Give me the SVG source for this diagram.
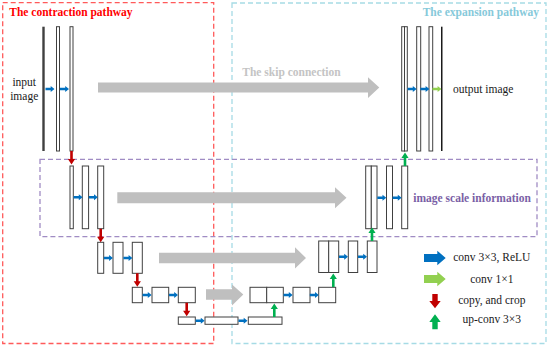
<svg xmlns="http://www.w3.org/2000/svg" xmlns:xlink="http://www.w3.org/1999/xlink" width="550" height="347" viewBox="0 0 550 347">
<style>
.bar{fill:#fff;stroke:#404040;stroke-width:1}
.dark{fill:#404040;stroke:none}
.skip{fill:#bfbfbf}
.t{font-family:"Liberation Serif","Times New Roman",serif;font-size:11.5px;fill:#1a1a1a}
.b{font-weight:bold}
.box{fill:none;stroke-width:1.3;stroke-dasharray:5,3}
</style>
<defs>
<path id="sb" d="M0,-1.2 H5.2 V-3 L9,0 L5.2,3 V1.2 H0 Z" fill="#0070c0"/>
<path id="sg" d="M0,-1.2 H5.2 V-3 L9,0 L5.2,3 V1.2 H0 Z" fill="#92d050"/>
<path id="dr" d="M-1.3,0 V8 H-3.6 L0,13.5 L3.6,8 H1.3 V0 Z" fill="#c00000"/>
<path id="ug" d="M-1.3,0 V-8 H-3.6 L0,-13.5 L3.6,-8 H1.3 V0 Z" fill="#00b050"/>
</defs>
<rect width="550" height="347" fill="#fff"/>

<g id="regions">
<rect class="box" x="2.7" y="2.7" width="211" height="340.8" stroke="#ff5a5a"/>
<rect class="box" x="232" y="3" width="314" height="340.5" stroke="#a6dbe5"/>
<rect class="box" x="40" y="159.3" width="497" height="77.4" stroke="#a08cc4"/>
<text class="t b" x="9.3" y="15.7" fill="#ff0000" style="fill:#ff0000">The contraction pathway</text>
<text class="t b" x="422.7" y="15.7" style="fill:#86c9da">The expansion pathway</text>
<text class="t b" x="413.3" y="201.7" style="fill:#7a5fa6">image scale information</text>
</g>

<g id="skip-connections">
<path class="skip" d="M98,82.5 H368 V77.3 L379.3,87.5 L368,98 V92.5 H98 Z"/>
<text class="t b" x="242.3" y="75.7" style="fill:#c4c4c4">The skip connection</text>
<path class="skip" d="M117.3,192.3 H335 V187.3 L346.5,197.8 L335,208.3 V203.3 H117.3 Z"/>
<path class="skip" d="M159,252.7 H295 V247.3 L306,258 L295,268.5 V263.3 H159 Z"/>
<path class="skip" d="M206,289.3 H232 V284.5 L243.3,294.5 L232,305.5 V299.8 H206 Z"/>
</g>

<g id="input-image">
<text class="t" x="24.2" y="85.5" text-anchor="middle">input</text>
<text class="t" x="24.2" y="100" text-anchor="middle">image</text>
<rect class="dark" x="42.3" y="26.7" width="2.4" height="124.3"/>
</g>
<g id="L1-left">
<rect class="bar" x="56.5" y="26.7" width="3" height="124.3"/>
<rect class="bar" x="70" y="26.7" width="3" height="124.3"/>
</g>
<g id="L2-left">
<rect class="bar" x="70" y="166" width="3.3" height="62.7"/>
<rect class="bar" x="82.3" y="166" width="6.3" height="62.7"/>
<rect class="bar" x="97.7" y="166" width="6" height="62.7"/>
</g>
<g id="L3-left">
<rect class="bar" x="97.7" y="242.3" width="6" height="31"/>
<rect class="bar" x="113" y="242.3" width="10" height="31"/>
<rect class="bar" x="132.3" y="242.3" width="10" height="31"/>
</g>
<g id="L4-left">
<rect class="bar" x="132.3" y="287.3" width="10" height="15.4"/>
<rect class="bar" x="152" y="287.3" width="16.7" height="15.4"/>
<rect class="bar" x="178.3" y="287.3" width="17" height="15.4"/>
</g>
<g id="L5-bottom">
<rect class="bar" x="178.3" y="317" width="17" height="7.3"/>
<rect class="bar" x="205" y="317" width="33" height="7.3"/>
<rect class="bar" x="248.3" y="317" width="33.7" height="7.3"/>
</g>
<g id="L4-right">
<rect class="bar" x="250" y="287.3" width="16.7" height="15.4"/>
<rect class="bar" x="266.7" y="287.3" width="16.6" height="15.4"/>
<rect class="bar" x="293" y="287.3" width="17" height="15.4"/>
<rect class="bar" x="318.7" y="287.3" width="17" height="15.4"/>
</g>
<g id="L3-right">
<rect class="bar" x="318.7" y="241" width="10" height="31.5"/>
<rect class="bar" x="328.7" y="241" width="10" height="31.5"/>
<rect class="bar" x="348.3" y="241" width="9.4" height="31.5"/>
<rect class="bar" x="367.3" y="241" width="9.7" height="31.5"/>
</g>
<g id="L2-right">
<rect class="bar" x="365.7" y="166" width="5.6" height="62.7"/>
<rect class="bar" x="371.3" y="166" width="5.7" height="62.7"/>
<rect class="bar" x="386.5" y="166" width="6" height="62.7"/>
<rect class="bar" x="401.7" y="166" width="6" height="62.7"/>
</g>
<g id="L1-right">
<rect class="bar" x="401.7" y="26.7" width="2.8" height="124.3"/>
<rect class="bar" x="404.5" y="26.7" width="2.8" height="124.3"/>
<rect class="bar" x="416.7" y="26.7" width="4" height="124.3"/>
<rect class="bar" x="429" y="26.7" width="3.7" height="124.3"/>
</g>
<g id="output-image">
<rect class="dark" x="441" y="26.7" width="1.5" height="124.3" style="fill:#1a1a1a"/>
<text class="t" x="453" y="92.5">output image</text>
</g>

<g id="connectors">
<use xlink:href="#sb" x="45.5" y="89"/>
<use xlink:href="#sb" x="60" y="89"/>
<use xlink:href="#dr" x="71.5" y="151"/>
<use xlink:href="#sb" x="73.6" y="197.3"/>
<use xlink:href="#sb" x="88.8" y="197.3"/>
<use xlink:href="#dr" x="100.7" y="228.7"/>
<use xlink:href="#sb" x="103.9" y="258"/>
<use xlink:href="#sb" x="123.4" y="258"/>
<use xlink:href="#dr" x="137.3" y="273.3"/>
<use xlink:href="#sb" x="142.6" y="295"/>
<use xlink:href="#sb" x="169" y="295"/>
<use xlink:href="#dr" x="186.7" y="302.7"/>
<use xlink:href="#sb" x="195.6" y="320.7"/>
<use xlink:href="#sb" x="238.5" y="320.7"/>
<use xlink:href="#ug" x="274.3" y="317"/>
<use xlink:href="#sb" x="283.6" y="295"/>
<use xlink:href="#sb" x="309.8" y="295"/>
<use xlink:href="#ug" x="333.3" y="287"/>
<use xlink:href="#sb" x="339" y="256.7"/>
<use xlink:href="#sb" x="358" y="256.7"/>
<use xlink:href="#ug" x="372" y="241"/>
<use xlink:href="#sb" x="377.3" y="197.7"/>
<use xlink:href="#sb" x="392.6" y="197.7"/>
<use xlink:href="#ug" x="405" y="166"/>
<use xlink:href="#sb" x="407.6" y="89"/>
<use xlink:href="#sb" x="420.4" y="89"/>
<use xlink:href="#sg" x="432.4" y="89"/>
</g>

<g id="legend">
<path d="M424,254 H437.3 V250.7 L445.7,258 L437.3,265.3 V262 H424 Z" fill="#0070c0"/>
<text class="t" x="491.8" y="260.7" text-anchor="middle">conv 3×3, ReLU</text>
<path d="M424,275 H437.3 V271.7 L445.7,279 L437.3,286.3 V283 H424 Z" fill="#92d050"/>
<text class="t" x="491.8" y="283.3" text-anchor="middle">conv 1×1</text>
<path d="M432.3,294 H437.7 V301 H440.7 L435,308.3 L429.3,301 H432.3 Z" fill="#c00000"/>
<text class="t" x="491.8" y="304.3" text-anchor="middle">copy, and crop</text>
<path d="M432.3,329.3 H437.7 V322 H440.7 L435,314.3 L429.3,322 H432.3 Z" fill="#00b050"/>
<text class="t" x="491.8" y="322.7" text-anchor="middle">up-conv 3×3</text>
</g>
</svg>
